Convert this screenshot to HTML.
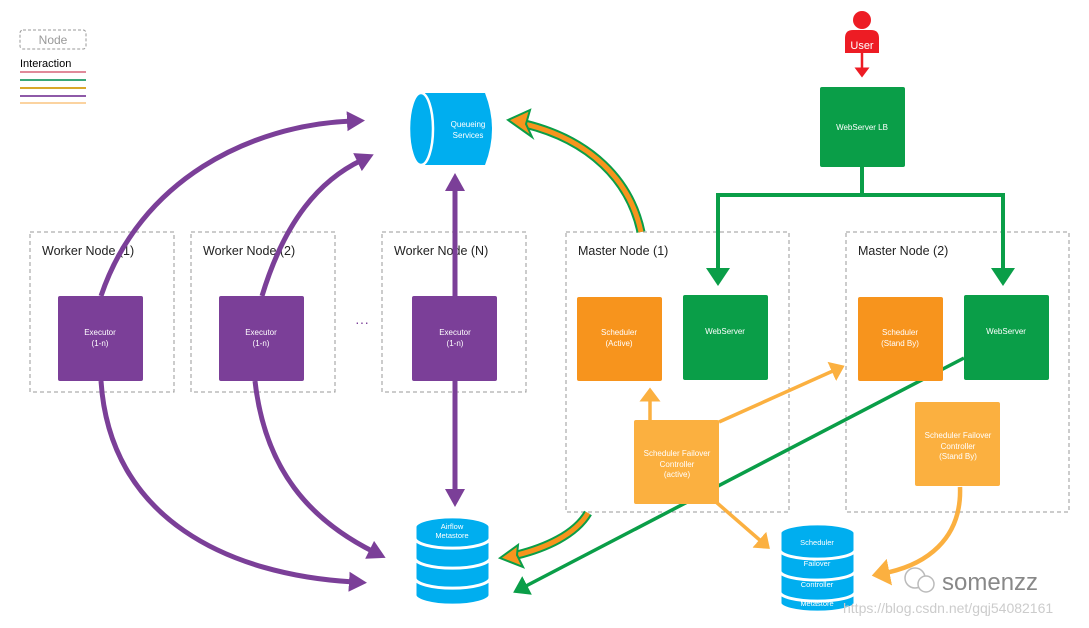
<!DOCTYPE html>
<html><head><meta charset="utf-8"><style>
html,body{margin:0;padding:0;background:#fff;}
svg{display:block;font-family:"Liberation Sans",sans-serif;}
</style></head><body>
<svg width="1089" height="628" viewBox="0 0 1089 628" xmlns="http://www.w3.org/2000/svg">
<defs>
<marker id="mp" markerWidth="5" markerHeight="5" refX="1" refY="2" orient="auto" markerUnits="strokeWidth"><path d="M0,0 L3.6,2 L0,4 Z" fill="#7b3f98"/></marker>
<marker id="mg" markerWidth="6" markerHeight="6" refX="1" refY="3" orient="auto" markerUnits="strokeWidth"><path d="M0,0 L4.5,3 L0,6 Z" fill="#0a9e48"/></marker>
<marker id="mo" markerWidth="6" markerHeight="6" refX="1" refY="3" orient="auto" markerUnits="strokeWidth"><path d="M0,0 L4,3 L0,6 Z" fill="#fbb040"/></marker>
<marker id="mr" markerWidth="6" markerHeight="6" refX="1" refY="3" orient="auto" markerUnits="strokeWidth"><path d="M0,0 L4,3 L0,6 Z" fill="#ed1c24"/></marker>
</defs>

<!-- legend -->
<rect x="20" y="30" width="66" height="19" rx="3" fill="none" stroke="#999" stroke-dasharray="3,2"/>
<text x="53" y="44" font-size="12" fill="#999" text-anchor="middle">Node</text>
<text x="20" y="67" font-size="11" fill="#000">Interaction</text>
<rect x="20" y="71" width="66" height="2" fill="#e08a9a"/>
<rect x="20" y="79" width="66" height="2" fill="#3aa87a"/>
<rect x="20" y="87" width="66" height="2" fill="#d9a72a"/>
<rect x="20" y="95" width="66" height="2" fill="#8e5aa8"/>
<rect x="20" y="102" width="66" height="2" fill="#fbd3a0"/>

<!-- dashed containers -->
<g fill="none" stroke="#999" stroke-dasharray="4,3">
<rect x="30" y="232" width="144" height="160"/>
<rect x="191" y="232" width="144" height="160"/>
<rect x="382" y="232" width="144" height="160"/>
<rect x="566" y="232" width="223" height="280"/>
<rect x="846" y="232" width="223" height="280"/>
</g>
<g font-size="12.5" fill="#222">
<text x="42" y="255">Worker Node (1)</text>
<text x="203" y="255">Worker Node (2)</text>
<text x="394" y="255">Worker Node (N)</text>
<text x="578" y="255">Master Node (1)</text>
<text x="858" y="255">Master Node (2)</text>
</g>
<text x="362" y="327" font-size="14" fill="#7b3f98" text-anchor="middle">···</text>

<!-- purple arrows -->
<g fill="none" stroke="#7b3f98" stroke-width="5">
<path d="M101,296 C140,180 250,125 352,121" marker-end="url(#mp)"/>
<path d="M262,296 C285,220 320,180 362,160" marker-end="url(#mp)"/>
<path d="M101,381 C110,520 230,575 354,582" marker-end="url(#mp)"/>
<path d="M255,381 C265,470 310,520 374,552" marker-end="url(#mp)"/>
<path d="M455,296 L455,186" marker-end="url(#mp)"/>
<path d="M455,381 L455,494" marker-end="url(#mp)"/>
</g>

<!-- Queueing -->
<path d="M425,93 L485,93 Q499,129 485,165 L425,165 Z" fill="#00aeef"/>
<ellipse cx="421" cy="129" rx="12" ry="36" fill="#00aeef" stroke="#fff" stroke-width="2.5"/>
<text x="468" y="127" font-size="8" fill="#fff" text-anchor="middle">Queueing</text>
<text x="468" y="138" font-size="8" fill="#fff" text-anchor="middle">Services</text>

<!-- Airflow metastore -->
<g fill="#00aeef" stroke="#fff" stroke-width="3">
<path d="M415,580 L415,595 A37,10 0 0 0 490,595 L490,580 Z"/>
<path d="M415,560 L415,578 A37,10 0 0 0 490,578 L490,560 Z"/>
<path d="M415,540 L415,558 A37,10 0 0 0 490,558 L490,540 Z"/>
<path d="M415,527 L415,538 A37,10 0 0 0 490,538 L490,527 A37,10 0 0 0 415,527 Z"/>
</g>
<text x="452" y="529" font-size="7.5" fill="#fff" text-anchor="middle">Airflow</text>
<text x="452" y="538" font-size="7.5" fill="#fff" text-anchor="middle">Metastore</text>

<!-- SFC metastore -->
<g fill="#00aeef" stroke="#fff" stroke-width="3">
<path d="M780,594 L780,603 A37,9 0 0 0 855,603 L855,594 Z"/>
<path d="M780,573 L780,592 A37,9 0 0 0 855,592 L855,573 Z"/>
<path d="M780,552 L780,571 A37,9 0 0 0 855,571 L855,552 Z"/>
<path d="M780,533 L780,550 A37,9 0 0 0 855,550 L855,533 A37,9 0 0 0 780,533 Z"/>
</g>
<g font-size="7.5" fill="#fff" text-anchor="middle">
<text x="817" y="545">Scheduler</text>
<text x="817" y="566">Failover</text>
<text x="817" y="587">Controller</text>
<text x="817" y="606">Metastore</text>
</g>

<!-- User -->
<circle cx="862" cy="20" r="9" fill="#ed1c24"/>
<path d="M845,53 L845,38 Q845,30 853,30 L871,30 Q879,30 879,38 L879,53 Z" fill="#ed1c24"/>
<text x="862" y="49" font-size="11" fill="#fff" text-anchor="middle">User</text>
<path d="M862,53 L862,70" stroke="#ed1c24" stroke-width="2.5" marker-end="url(#mr)"/>

<!-- WebServer LB -->
<rect x="820" y="87" width="85" height="80" rx="2" fill="#0a9e48"/>
<text x="862" y="130" font-size="8" fill="#fff" text-anchor="middle">WebServer LB</text>
<g fill="none" stroke="#0a9e48" stroke-width="4">
<path d="M862,167 L862,195 M718,195 L1003,195"/>
<path d="M718,193 L718,272" marker-end="url(#mg)"/>
<path d="M1003,193 L1003,272" marker-end="url(#mg)"/>
</g>

<!-- green line to metastore -->
<path d="M964,358 L524,587" fill="none" stroke="#0a9e48" stroke-width="3.5" marker-end="url(#mg)"/>

<!-- double arrows orange/green -->
<g fill="none">
<path d="M641,232 C630,180 590,140 525,124" stroke="#0a9e48" stroke-width="9"/>
<path d="M641,232 C630,180 590,140 525,124" stroke="#f7941d" stroke-width="5"/>
<path d="M508,120 L530,110 L526,124 L532,137 Z" fill="#f7941d" stroke="#0a9e48" stroke-width="2"/>
<path d="M588,513 C575,535 545,548 517,555" stroke="#0a9e48" stroke-width="9"/>
<path d="M588,513 C575,535 545,548 517,555" stroke="#f7941d" stroke-width="5"/>
<path d="M500,558 L518,545 L517,555 L523,567 Z" fill="#f7941d" stroke="#0a9e48" stroke-width="2"/>
</g>

<!-- boxes -->
<g fill="#7b3f98">
<rect x="58" y="296" width="85" height="85" rx="2"/>
<rect x="219" y="296" width="85" height="85" rx="2"/>
<rect x="412" y="296" width="85" height="85" rx="2"/>
</g>
<g font-size="8" fill="#fff" text-anchor="middle">
<text x="100" y="335">Executor</text><text x="100" y="346">(1-n)</text>
<text x="261" y="335">Executor</text><text x="261" y="346">(1-n)</text>
<text x="455" y="335">Executor</text><text x="455" y="346">(1-n)</text>
</g>
<rect x="577" y="297" width="85" height="84" rx="2" fill="#f7941d"/>
<rect x="683" y="295" width="85" height="85" rx="2" fill="#0a9e48"/>
<rect x="858" y="297" width="85" height="84" rx="2" fill="#f7941d"/>
<rect x="964" y="295" width="85" height="85" rx="2" fill="#0a9e48"/>

<!-- orange arrows -->
<g fill="none" stroke="#fbb040" stroke-width="3.5">
<path d="M650,420 L650,398" marker-end="url(#mo)"/>
<path d="M719,422 L835,370" marker-end="url(#mo)"/>
<path d="M716,502 L762,542" marker-end="url(#mo)"/>
<path d="M960,487 C962,540 925,565 885,573" stroke-width="4.5" marker-end="url(#mo)"/>
</g>

<rect x="634" y="420" width="85" height="84" rx="2" fill="#fbb040"/>
<rect x="915" y="402" width="85" height="84" rx="2" fill="#fbb040"/>
<g font-size="8" fill="#fff" text-anchor="middle">
<text x="619" y="335">Scheduler</text><text x="619" y="346">(Active)</text>
<text x="725" y="334">WebServer</text>
<text x="900" y="335">Scheduler</text><text x="900" y="346">(Stand By)</text>
<text x="1006" y="334">WebServer</text>
<text x="677" y="456">Scheduler Failover</text><text x="677" y="467">Controller</text><text x="677" y="477">(active)</text>
<text x="958" y="438">Scheduler Failover</text><text x="958" y="449">Controller</text><text x="958" y="459">(Stand By)</text>
</g>

<!-- watermark -->
<circle cx="915" cy="578" r="10" fill="none" stroke="#bbb" stroke-width="1.5"/>
<circle cx="926" cy="584" r="8" fill="#fff" stroke="#bbb" stroke-width="1.5"/>
<text x="942" y="590" font-size="24" fill="#888">somenzz</text>
<text x="843" y="613" font-size="14" fill="#ccc">https://blog.csdn.net/gqj54082161</text>
</svg>
</body></html>
